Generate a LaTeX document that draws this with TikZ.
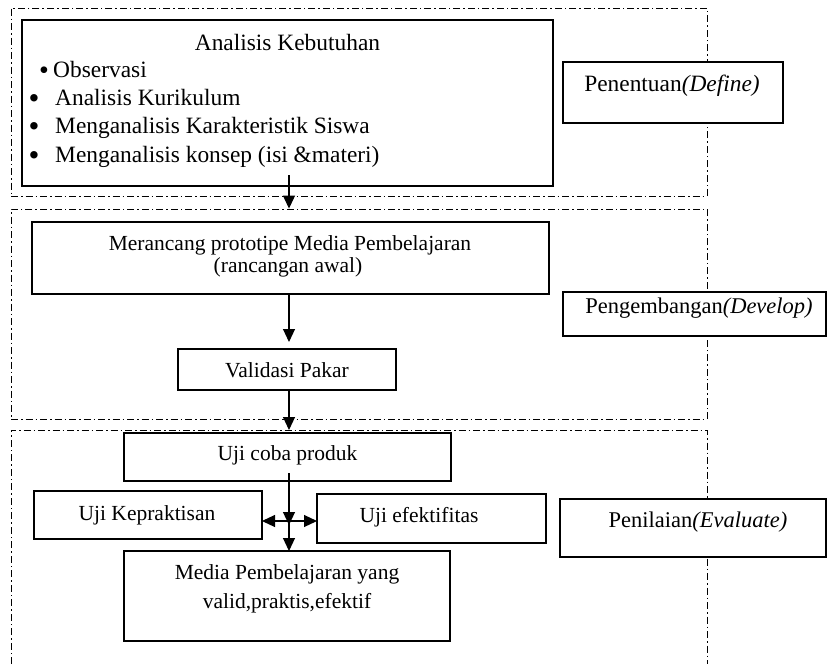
\documentclass[tikz,border=0pt]{standalone}
\usepackage{fontspec}
\setmainfont{Liberation Serif}
\usetikzlibrary{arrows.meta}
\begin{document}
\begin{tikzpicture}[x=1pt,y=-1pt,
  sect/.style={draw, line width=0.9pt, dash pattern=on 7pt off 3pt on 1.5pt off 3pt},
  box/.style={draw, line width=1.3pt, fill=white, inner sep=0pt, outer sep=0pt},
  txt/.style={inner sep=0pt, anchor=base, font=\fontsize{21.5}{26}\selectfont},
  bigtxt/.style={txt, font=\fontsize{23.4}{28}\selectfont},
  midtxt/.style={txt, font=\fontsize{22.5}{27}\selectfont},
  bul/.style={inner sep=0pt, anchor=base, font=\fontsize{31}{31}\selectfont},
  arr/.style={line width=1.1pt, -{Triangle[length=13pt,width=12pt]}}
]
\useasboundingbox (0,0) rectangle (827,664);
% sections
\node[sect, minimum width=696pt, minimum height=188pt, inner sep=0pt] (sec1) at (359,102) {};
\node[sect, minimum width=696pt, minimum height=210pt, inner sep=0pt] (sec2) at (359,314) {};
\coordinate (s3bl) at (11,664);
\coordinate (s3tl) at (11,430);
\coordinate (s3tr) at (707,430);
\coordinate (s3br) at (707,664);
\draw[sect] (s3bl) -- (s3tl) -- (s3tr) -- (s3br);

% section 1
\node[box, minimum width=531pt, minimum height=166pt] (need) at (287.5,103) {};
\node[bigtxt] (needt) at (287.5,50) {Analisis Kebutuhan};
\node[bul, font=\fontsize{28}{28}\selectfont] (b1) at (44,79) {•};
\node[bigtxt, anchor=base west] (l1) at (53,77) {Observasi};
\node[bul] (b2) at (34,108) {•};
\node[bigtxt, anchor=base west] (l2) at (55,105) {Analisis Kurikulum};
\node[bul] (b3) at (34,136) {•};
\node[bigtxt, anchor=base west] (l3) at (55,133) {Menganalisis Karakteristik Siswa};
\node[bul] (b4) at (34,165) {•};
\node[bigtxt, anchor=base west] (l4) at (55,162) {Menganalisis konsep (isi \&materi)};
\node[box, minimum width=220pt, minimum height=61pt] (define) at (673,92.5) {};
\node[bigtxt] (definet) at (672,91) {Penentuan\textit{(Define)}};

% section 2
\node[box, minimum width=517pt, minimum height=72pt] (design) at (290.5,258) {};
\node[txt] (designt1) at (290,250) {Merancang prototipe Media Pembelajaran};
\node[txt] (designt2) at (288,272) {(rancangan awal)};
\node[box, minimum width=218pt, minimum height=41pt] (valid) at (287,369.5) {};
\node[txt] (validt) at (287,377) {Validasi Pakar};
\node[box, minimum width=263pt, minimum height=44pt] (develop) at (694.5,314) {};
\node[midtxt] (developt) at (699,313) {Pengembangan\textit{(Develop)}};

% section 3
\node[box, minimum width=327pt, minimum height=48pt] (trial) at (287.5,457) {};
\node[txt] (trialt) at (287.5,460) {Uji coba produk};
\node[box, minimum width=228pt, minimum height=48pt] (kep) at (148,515) {};
\node[txt] (kept) at (147,520) {Uji Kepraktisan};
\node[box, minimum width=229pt, minimum height=49pt] (efk) at (431.5,518.5) {};
\node[txt] (efkt) at (419,522) {Uji efektifitas};
\node[box, minimum width=326pt, minimum height=90pt] (media) at (287,596) {};
\node[txt] (mediat1) at (287,579) {Media Pembelajaran yang};
\node[txt] (mediat2) at (287,608) {valid,praktis,efektif};
\node[box, minimum width=266pt, minimum height=58pt] (evaluate) at (693,528) {};
\node[midtxt] (evaluatet) at (698,527) {Penilaian\textit{(Evaluate)}};

% connectors
\coordinate (a1s) at (289,175);
\draw[arr] (a1s) -- (a1s |- sec2.north);
\coordinate (a2s) at (289,294);
\coordinate (a2e) at (289,342);
\draw[arr] (a2s) -- (a2e);
\coordinate (a3s) at (289,390);
\draw[arr] (a3s) -- (a3s |- s3tl);
\coordinate (a4s) at (289,473);
\coordinate (cross) at (289,521);
\coordinate (a4m) at (289,525);
\draw[arr] (a4s) -- (a4m);
\draw[arr] (cross) -- (a4s |- media.north);
\draw[arr] (cross) -- (kep.east |- cross);
\draw[arr] (cross) -- (efk.west |- cross);
\end{tikzpicture}
\end{document}
